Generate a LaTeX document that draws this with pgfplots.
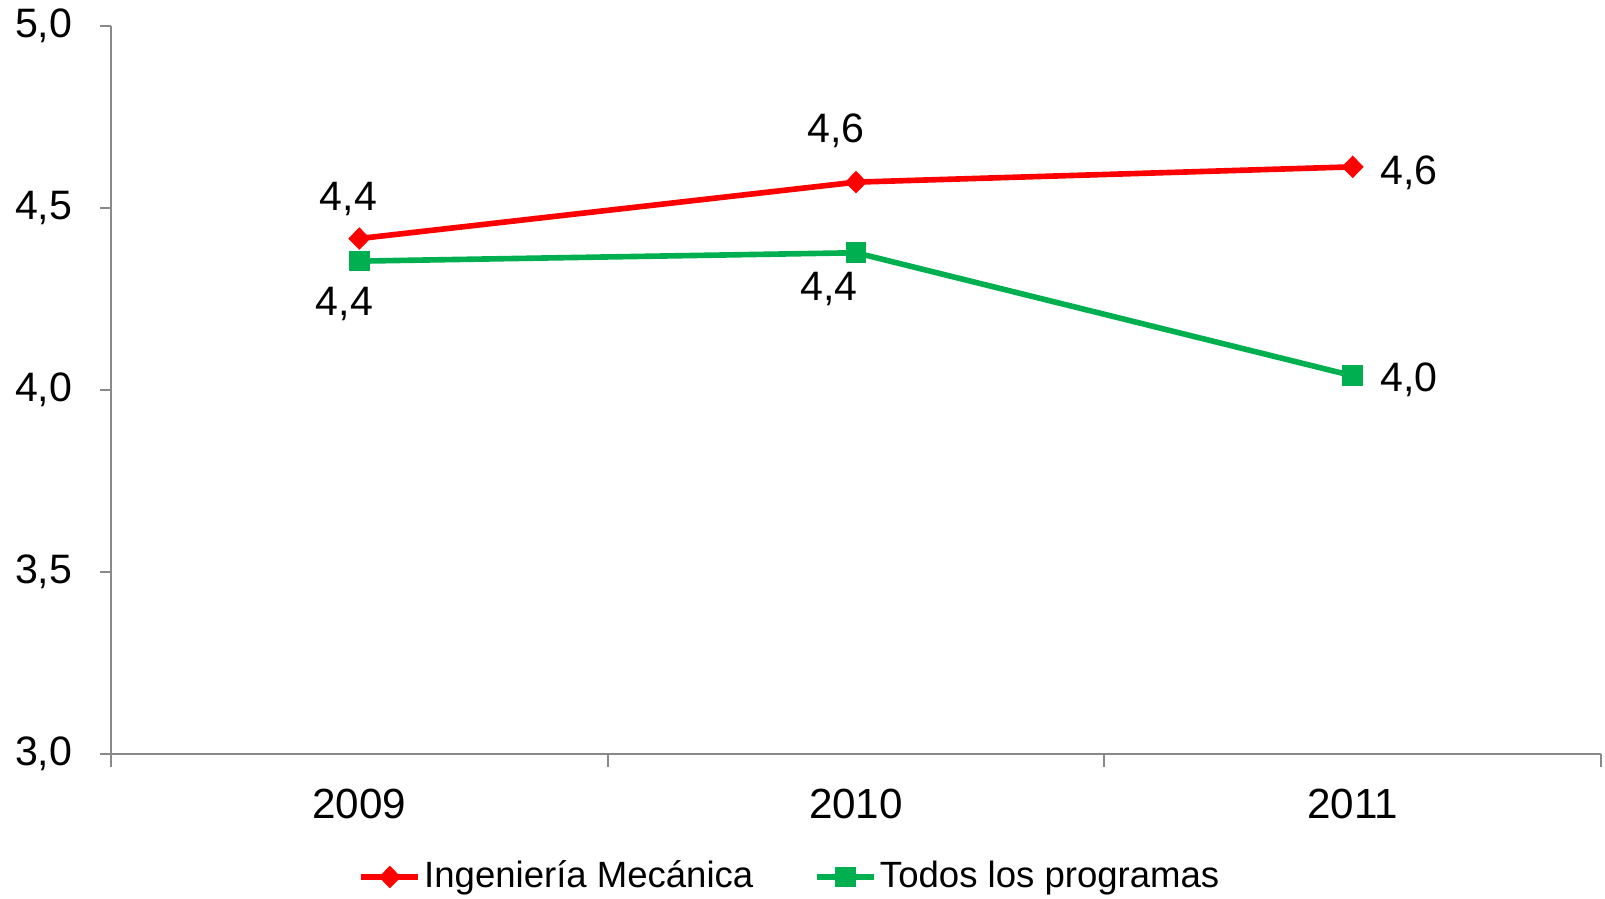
\documentclass[border=0pt]{standalone}
\usepackage{fontspec}
\setmainfont{Liberation Sans}
\usepackage{pgfplots}
\pgfplotsset{compat=1.18}

\definecolor{serRed}{HTML}{FF0000}
\definecolor{serGreen}{HTML}{00B050}
\definecolor{axisgray}{HTML}{898989}

\begin{document}
\begin{tikzpicture}[font=\fontsize{11.7pt}{13pt}\selectfont]
  \begin{axis}[
    name=ax,
    scale only axis,
    width=14.90cm,
    height=7.28cm,
    xmin=0.5, xmax=3.5,
    ymin=3, ymax=5,
    axis lines*=left,
    axis line style={draw=axisgray, line width=0.6pt},
    tick style={draw=axisgray, line width=0.6pt},
    tick align=outside,
    major tick length=0.11cm,
    minor tick length=0.13cm,
    xtick={1,2,3},
    xticklabels={2009,2010,2011},
    major x tick style={draw=none},
    minor xtick={0.5,1.5,2.5,3.5},
    ytick={3,3.5,4,4.5,5},
    /pgf/number format/.cd, use comma, fixed, fixed zerofill, precision=1, assume math mode=true,
    /pgfplots/.cd,
    yticklabel style={anchor=east, inner sep=0pt, xshift=-0.27cm},
    xticklabel style={anchor=north, inner sep=0pt, yshift=-0.23cm, font=\fontsize{12pt}{14pt}\selectfont},
    legend style={
      at={(0.456,-0.169)}, anchor=center,
      draw=none, fill=none,
      legend columns=2,
      inner sep=0pt,
      font=\fontsize{10.4pt}{12pt}\selectfont,
      nodes={inner sep=0.03cm},
      /tikz/every even column/.append style={column sep=0.58cm},
    },
    legend image code/.code={%
      \draw[mark repeat=2, mark phase=2, #1]
        plot coordinates {(0cm,0cm) (0.285cm,0cm) (0.57cm,0cm)};
    },
    clip=false,
  ]

  % Ingeniería Mecánica
  \addplot[serRed, line width=1.6pt, mark=diamond*, mark size=3pt,
    mark options={solid, xscale=1.3, line width=0.3pt, fill=serRed}]
    coordinates {(1,4.416) (2,4.571) (3,4.613)};
  \addlegendentry{Ingeniería Mecánica}

  % Todos los programas
  \addplot[serGreen, line width=1.6pt, mark=square*, mark size=2.8pt,
    mark options={solid, line width=0.3pt, fill=serGreen}]
    coordinates {(1,4.354) (2,4.377) (3,4.039)};
  \addlegendentry{Todos los programas}

  % data labels
  \node[anchor=base, inner sep=0pt, xshift=-0.11cm, yshift=0.28cm] at (axis cs:1,4.416) {4,4};
  \node[anchor=base, inner sep=0pt, xshift=-0.20cm, yshift=0.40cm] at (axis cs:2,4.571) {4,6};
  \node[anchor=base west, inner sep=0pt, xshift=0.27cm, yshift=-0.18cm] at (axis cs:3,4.613) {4,6};
  \node[anchor=base, inner sep=0pt, xshift=-0.15cm, yshift=-0.54cm] at (axis cs:1,4.354) {4,4};
  \node[anchor=base, inner sep=0pt, xshift=-0.27cm, yshift=-0.48cm] at (axis cs:2,4.377) {4,4};
  \node[anchor=base west, inner sep=0pt, xshift=0.27cm, yshift=-0.16cm] at (axis cs:3,4.039) {4,0};

  \end{axis}
  \pgfresetboundingbox
  \path ([xshift=-1.11cm,yshift=-1.45cm]ax.south west) rectangle ([xshift=0.04cm,yshift=0.26cm]ax.north east);
\end{tikzpicture}
\end{document}
